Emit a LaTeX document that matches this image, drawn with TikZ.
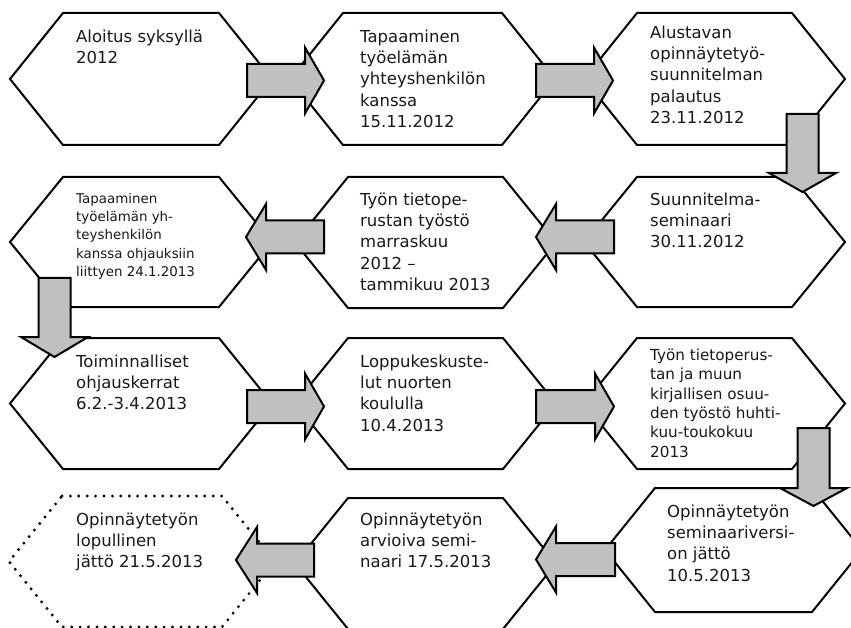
\documentclass[tikz,border=0pt]{standalone}
\usepackage{fontspec}
\setmainfont{DejaVu Sans}
\definecolor{arrgray}{HTML}{C0C0C0}
\newcommand\fs{\rule{0pt}{13pt}}
% hexagon: name, x top-left, x top-right, y top, y bottom, inset, style
\newcommand\hexa[7]{%
  \draw[#7] (#2,#4) -- (#3,#4) -- (#3+#6,{(#4+#5)/2}) -- (#3,#5) -- (#2,#5) -- (#2-#6,{(#4+#5)/2}) -- cycle;
  \coordinate (#1) at ({(#2+#3)/2},{(#4+#5)/2});}
% horizontal block arrow: shaft start x, head base x, tip x, mid y
\newcommand\arrH[4]{%
  \draw[arrst] (#1,#4-16.5) -- (#2,#4-16.5) -- (#2,#4-33) -- (#3,#4) -- (#2,#4+33) -- (#2,#4+16.5) -- (#1,#4+16.5) -- cycle;}
% vertical block arrow: shaft start y, head base y, tip y, mid x
\newcommand\arrV[4]{%
  \draw[arrst] (#4-16,#1) -- (#4-16,#2) -- (#4-33.5,#2) -- (#4,#3) -- (#4+33.5,#2) -- (#4+16,#2) -- (#4+16,#1) -- cycle;}
\tikzset{
  hexst/.style={draw=black, line width=2pt, fill=white, line join=miter},
  dotst/.style={draw=black, line width=3.2pt, line cap=round, dash pattern=on 0pt off 8.4pt, fill=white},
  arrst/.style={draw=black, line width=2pt, fill=arrgray, line join=miter},
  txt/.style={anchor=north west, inner sep=0pt, align=left, text=black!90, font=\fontsize{16.5}{21.3}\selectfont},
  txts/.style={txt, font=\fontsize{13.4}{18.3}\selectfont},
  txtm/.style={txt, font=\fontsize{15.2}{19.4}\selectfont},
}
\begin{document}
\begin{tikzpicture}[x=1pt,y=-1pt]
\useasboundingbox[fill=white] (0,0) rectangle (851,628);
% hexagons
\hexa{h1}{63}{219}{13}{145}{53}{hexst}
\hexa{h2}{343}{502}{13}{145}{53}{hexst}
\hexa{h3}{637}{792}{13}{145}{53}{hexst}
\hexa{h4}{63}{219}{177}{307}{53}{hexst}
\hexa{h5}{348}{503}{177}{308}{53}{hexst}
\hexa{h6}{637}{792}{177}{307}{53}{hexst}
\hexa{h7}{63}{219}{338}{469}{53}{hexst}
\hexa{h8}{348}{503}{338}{469}{53}{hexst}
\hexa{h9}{637}{792}{338}{469}{53}{hexst}
\hexa{h10}{62}{222}{496}{627}{53}{dotst}
\hexa{h11}{348}{503}{498}{629}{53}{hexst}
\hexa{h12}{655}{812}{488}{612}{50}{hexst}
% texts
\node[txt] (t1) at (76,42-13) {\fs Aloitus syksyllä\\2012};
\node[txt] (t2) at (360,42-13) {\fs Tapaaminen\\työelämän\\yhteyshenkilön\\kanssa\\15.11.2012};
\node[txt] (t3) at (650,38-13) {\fs Alustavan\\opinnäytetyö-\\suunnitelman\\palautus\\23.11.2012};
\node[txts] (t4) at (76,203-13) {\fs Tapaaminen\\työelämän yh-\\teyshenkilön\\kanssa ohjauksiin\\liittyen 24.1.2013};
\node[txt] (t5) at (360,205-13) {\fs Työn tietope-\\rustan työstö\\marraskuu\\2012 –\\tammikuu 2013};
\node[txt] (t6) at (650,205-13) {\fs Suunnitelma-\\seminaari\\30.11.2012};
\node[txt] (t7) at (76,367-13) {\fs Toiminnalliset\\ohjauskerrat\\6.2.-3.4.2013};
\node[txt] (t8) at (360,367-13) {\fs Loppukeskuste-\\lut nuorten\\koululla\\10.4.2013};
\node[txtm] (t9) at (650,360-13) {\fs Työn tietoperus-\\tan ja muun\\kirjallisen osuu-\\den työstö huhti-\\kuu-toukokuu\\2013};
\node[txt] (t10) at (76,525-13) {\fs Opinnäytetyön\\lopullinen\\jättö 21.5.2013};
\node[txt] (t11) at (360,525-13) {\fs Opinnäytetyön\\arvioiva semi-\\naari 17.5.2013};
\node[txt] (t12) at (667,517-13) {\fs Opinnäytetyön\\seminaariversi-\\on jättö\\10.5.2013};
% block arrows
\arrH{247}{305}{324}{80.5}
\arrH{536}{594}{613}{80.5}
\arrV{114}{173}{192}{802.5}
\arrH{614}{556}{536}{237}
\arrH{324}{266}{246}{237}
\arrV{278}{337}{357}{54.5}
\arrH{247}{305}{324}{406.5}
\arrH{536}{595}{614}{406.5}
\arrV{428}{488}{506}{813.5}
\arrH{615}{556}{536}{559.5}
\arrH{314}{257}{236}{560}
\end{tikzpicture}
\end{document}
